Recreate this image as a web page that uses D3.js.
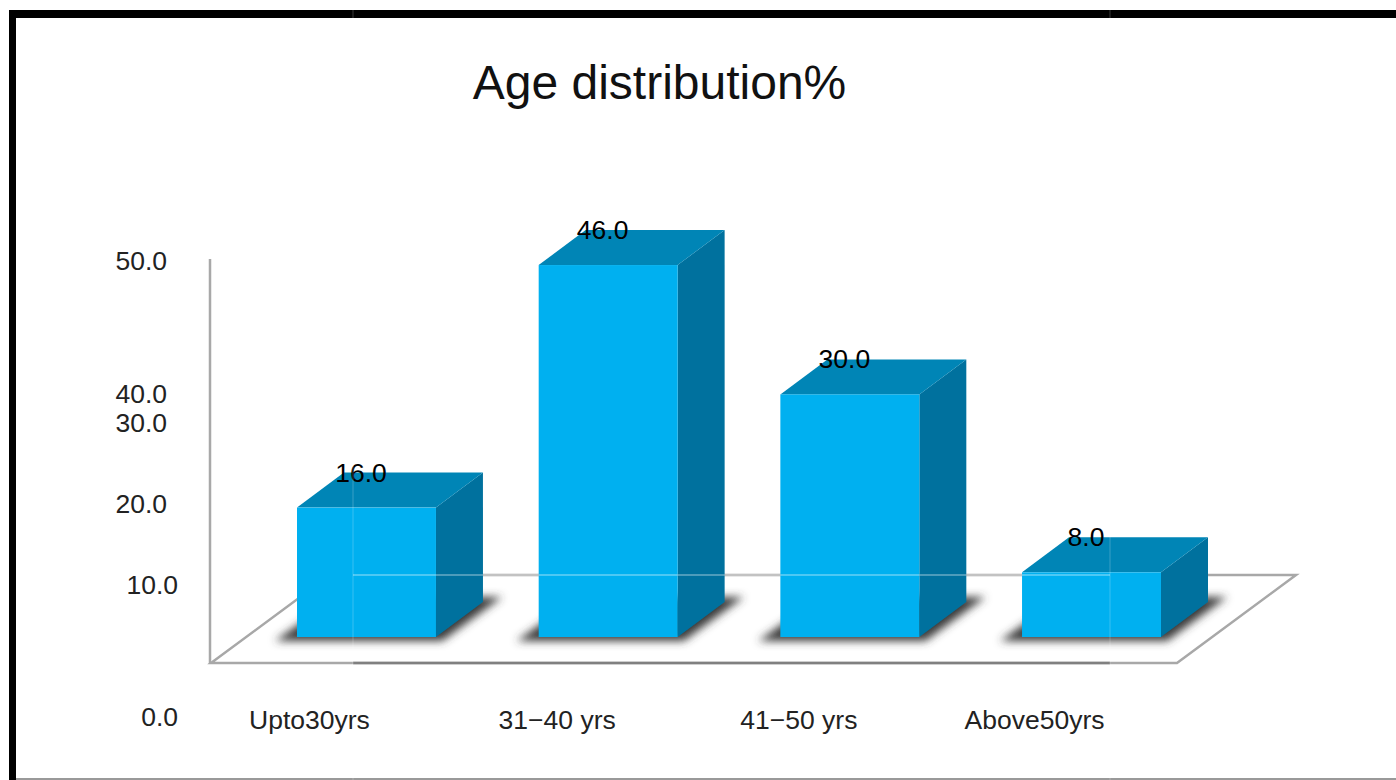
<!DOCTYPE html>
<html>
<head>
<meta charset="utf-8">
<title>Age distribution%</title>
<script src="https://cdn.jsdelivr.net/npm/d3@7"></script>
<style>
    html, body { margin: 0; padding: 0; background: #fff; overflow: hidden; }
    svg { display: block; }
    text { font-family: "Liberation Sans", Arial, sans-serif; }
</style>
</head>
<body>
<div id="chart"></div>
<script>
const categories = ["Upto30yrs", "31\u221240 yrs", "41\u221250 yrs", "Above50yrs"];
const values = [16.0, 46.0, 30.0, 8.0];
const tickValues = [0, 10, 20, 30, 40, 50];

// ticks whose labels sit further down, and those pulled to the right
const droppedTicks = [0, 40];
const insetTicks = [0, 10];

const width = 1396, height = 780;
const depth = { x: 47, y: -35 };
const colors = { front: "#00b0f0", top: "#0085b6", side: "#00719e", floor: "#a8a8a8" };

const svg = d3.select("#chart").append("svg")
    .attr("width", width)
    .attr("height", height);

const x = d3.scaleBand().domain(categories).range([297, 1161]).paddingInner(0.425);
const y = d3.scaleLinear().domain([0, 50]).range([637, 232.7]);

svg.append("defs").append("filter")
    .attr("id", "soft")
    .attr("x", "-20%").attr("y", "-40%")
    .attr("width", "140%").attr("height", "180%")
    .append("feGaussianBlur")
    .attr("stdDeviation", 4);

// frame
svg.append("rect").attr("x", 9).attr("y", 10).attr("width", width).attr("height", 8).attr("fill", "#000");
svg.append("rect").attr("x", 9).attr("y", 10).attr("width", 7).attr("height", height).attr("fill", "#000");
svg.append("rect").attr("x", 16).attr("y", 778).attr("width", width).attr("height", 2).attr("fill", "#999");

// title
svg.append("text")
    .attr("x", 659.5).attr("y", 99)
    .attr("text-anchor", "middle")
    .attr("font-size", 48)
    .attr("fill", "#111")
    .text("Age distribution%");

// floor and back wall edge
svg.append("path")
    .attr("d", "M211,663 L1177,663 L1296,575 L330,575 Z")
    .attr("fill", "#fff")
    .attr("stroke", colors.floor)
    .attr("stroke-width", 2.5);
svg.append("line")
    .attr("x1", 353).attr("x2", 1110).attr("y1", 663).attr("y2", 663)
    .attr("stroke", "#808080")
    .attr("stroke-width", 2.5);
svg.append("line")
    .attr("x1", 210).attr("x2", 210).attr("y1", 259).attr("y2", 664)
    .attr("stroke", colors.floor)
    .attr("stroke-width", 2.5);

// value axis, labels only
const yAxis = svg.append("g")
    .attr("transform", "translate(178,0)")
    .call(d3.axisLeft(y).tickValues(tickValues).tickSize(0).tickPadding(0).tickFormat(d3.format(".1f")));
yAxis.select(".domain").remove();
yAxis.selectAll("text")
    .attr("font-size", 26.5)
    .attr("fill", "#222")
    .attr("dx", d => insetTicks.includes(d) ? 0 : -11)
    .attr("dy", d => droppedTicks.includes(d) ? 88.5 : 37);

// category labels, the spaced ones sit a little closer to their bars
svg.selectAll(".cat")
    .data(categories)
    .join("text")
    .attr("class", "cat")
    .attr("x", d => x(d) + x.bandwidth() / 2 - (d.includes(" ") ? 51 : 57))
    .attr("y", 729)
    .attr("text-anchor", "middle")
    .attr("font-size", 26.5)
    .attr("fill", "#222")
    .text(d => d);

const bars = svg.selectAll(".bar")
    .data(categories.map((c, i) => ({ category: c, value: values[i] })))
    .join("g")
    .attr("class", "bar");

const w = x.bandwidth();

// ground shadow
bars.append("path")
    .attr("d", d => {
        const l = x(d.category), r = l + w, b = y(0);
        return `M${l - 22},${b + 4} L${r + 6},${b + 4} L${r + 66},${b - 40} L${l + 40},${b - 40} Z`;
    })
    .attr("fill", "#3a3a3a")
    .attr("filter", "url(#soft)");

bars.append("path")
    .attr("fill", colors.side)
    .attr("d", d => {
        const r = x(d.category) + w, t = y(d.value), b = y(0);
        return `M${r},${t} L${r + depth.x},${t + depth.y} L${r + depth.x},${b + depth.y} L${r},${b} Z`;
    });

bars.append("path")
    .attr("fill", colors.top)
    .attr("d", d => {
        const l = x(d.category), t = y(d.value);
        return `M${l},${t} L${l + depth.x},${t + depth.y} L${l + w + depth.x},${t + depth.y} L${l + w},${t} Z`;
    });

bars.append("rect")
    .attr("fill", colors.front)
    .attr("x", d => x(d.category))
    .attr("y", d => y(d.value))
    .attr("width", w)
    .attr("height", d => y(0) - y(d.value));

// pale overlay lines running across the bars
svg.append("line")
    .attr("x1", 353).attr("x2", 1110).attr("y1", 575).attr("y2", 575)
    .attr("stroke", "#fff")
    .attr("stroke-opacity", 0.3)
    .attr("stroke-width", 2);
[353, 1110].forEach(sx => {
    svg.append("line")
        .attr("x1", sx).attr("x2", sx).attr("y1", 0).attr("y2", height)
        .attr("stroke", "#fff")
        .attr("stroke-opacity", 0.15)
        .attr("stroke-width", 1.5);
});

// value labels
bars.append("text")
    .attr("x", d => x(d.category) + w / 2 - 5.5)
    .attr("y", d => y(d.value) - 26)
    .attr("text-anchor", "middle")
    .attr("font-size", 26.5)
    .attr("fill", "#000")
    .text(d => d3.format(".1f")(d.value));
</script>
</body>
</html>
